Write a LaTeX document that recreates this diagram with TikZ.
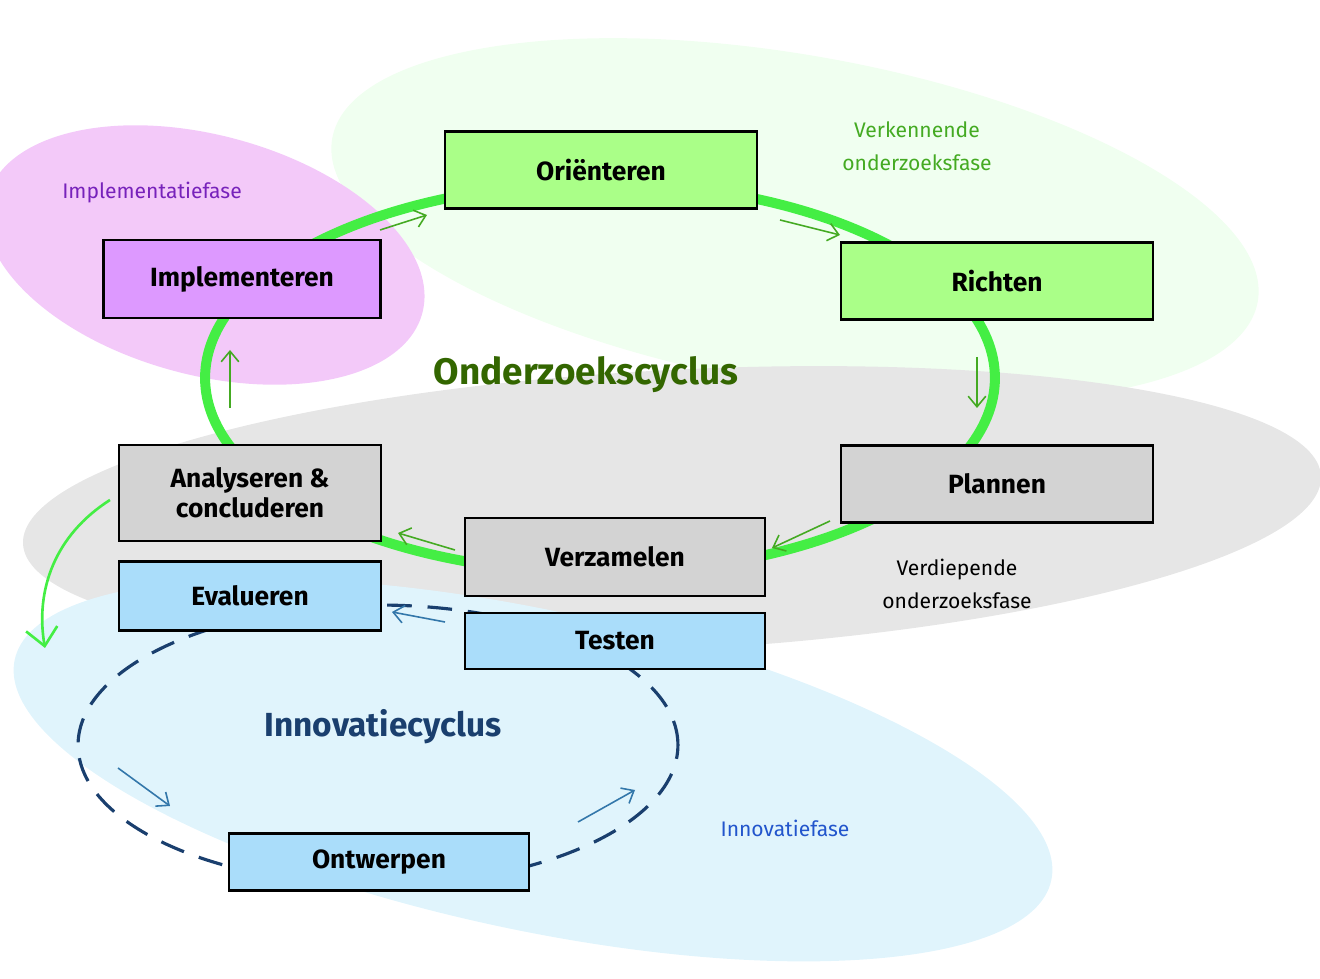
\documentclass[tikz,border=0pt]{standalone}
\usepackage{fontspec}
\setmainfont{Fira Sans}
\usetikzlibrary{shapes,backgrounds,calc,arrows.meta}
\definecolor{ringgreen}{HTML}{44EE44}
\definecolor{boxgreen}{HTML}{AAFF88}
\definecolor{boxgray}{HTML}{D3D3D3}
\definecolor{boxpink}{HTML}{DD99FF}
\definecolor{boxblue}{HTML}{AADDFA}
\definecolor{cyclblue}{HTML}{1A3F6E}
\definecolor{arrblue}{HTML}{3377AA}
\definecolor{arrgreen}{HTML}{44AA22}
\begin{document}
\begin{tikzpicture}[x=0.02cm,y=-0.02cm]
        % Styles for the phase boxes and the small arrows
        \tikzstyle{phase}=[draw=black, line width=1.2pt, inner sep=0pt, align=center, font=\fontsize{15}{17}\selectfont\bfseries];
        \tikzstyle{cyclearrow}=[-{Straight Barb[length=6pt,width=10pt]}, line width=0.9pt];
        \tikzstyle{faselabel}=[align=center, font=\fontsize{12}{19}\selectfont];

        \useasboundingbox (0,0) rectangle (1320,979);

        % Background blobs for the phases
        \fill[green!6] (795,220) ellipse [x radius=9.4cm, y radius=3.3cm, rotate=-10];
        \fill[color={rgb,255:red,243;green,201;blue,249}] (205,255) ellipse [x radius=4.5cm, y radius=2.4cm, rotate=-15];
        \fill[color={rgb,255:red,230;green,230;blue,230}] (672,510) ellipse [x radius=13cm, y radius=2.8cm, rotate=3];
        \fill[color={rgb,255:red,224;green,244;blue,252}] (533,770) ellipse [x radius=10.6cm, y radius=3.2cm, rotate=-12];

        % Research cycle ring and dashed innovation cycle
        \draw[ringgreen, line width=0.2cm] (600,378) ellipse [x radius=7.9cm, y radius=3.9cm];
        \draw[cyclblue, line width=1.8pt, dash pattern=on 14pt off 9pt] (378,745) ellipse [x radius=6cm, y radius=2.8cm];

        % Boxes of the research cycle
        \node[phase, fill=boxgreen, minimum width=6.24cm, minimum height=1.54cm] (orient) at (601,170) {Oriënteren};
        \node[phase, fill=boxgreen, minimum width=6.24cm, minimum height=1.54cm] (richt) at (997,281) {Richten};
        \node[phase, fill=boxgray, minimum width=6.24cm, minimum height=1.54cm] (plan) at (997,484) {Plannen};
        \node[phase, fill=boxgray, minimum width=6cm, minimum height=1.56cm] (verz) at (615,557) {Verzamelen};
        \node[phase, fill=boxgray, minimum width=5.24cm, minimum height=1.92cm] (analys) at (250,493) {Analyseren \&\\concluderen};
        \node[phase, fill=boxpink, minimum width=5.54cm, minimum height=1.56cm] (impl) at (242,279) {Implementeren};

        % Boxes of the innovation cycle
        \node[phase, fill=boxblue, minimum width=5.24cm, minimum height=1.38cm] (eval) at (250,596) {Evalueren};
        \node[phase, fill=boxblue, minimum width=6cm, minimum height=1.12cm] (test) at (615,641) {Testen};
        \node[phase, fill=boxblue, minimum width=6cm, minimum height=1.14cm] (ontw) at (379,862) {Ontwerpen};

        % Cycle titles
        \node[font=\fontsize{21}{24}\selectfont\bfseries, text={rgb,255:red,51;green,102;blue,0}] (ozc) at (586,375) {Onderzoekscyclus};
        \node[font=\fontsize{19}{22}\selectfont\bfseries, text=cyclblue] (inc) at (383,727) {Innovatiecyclus};

        % Phase labels
        \node[faselabel, text=arrgreen] (verk) at (917,146) {Verkennende\\onderzoeksfase};
        \node[faselabel, text={rgb,255:red,119;green,34;blue,187}] (implf) at (152,193) {Implementatiefase};
        \node[faselabel, text=black] (verd) at (957,584) {Verdiepende\\onderzoeksfase};
        \node[faselabel, text={rgb,255:red,34;green,85;blue,204}] (innf) at (785,828) {Innovatiefase};

        % Arrows of the research cycle
        \coordinate (g1a) at (380,230); \coordinate (g1b) at (427,215);
        \coordinate (g2a) at (780,220); \coordinate (g2b) at (840,235);
        \coordinate (g3a) at (977,357); \coordinate (g3b) at (977,408);
        \coordinate (g4a) at (830,521); \coordinate (g4b) at (772,548);
        \coordinate (g5a) at (455,550); \coordinate (g5b) at (398,533);
        \coordinate (g6a) at (230,408); \coordinate (g6b) at (230,350);
        \foreach \i in {1,...,6}
            \draw[cyclearrow, arrgreen] (g\i a) -- (g\i b);

        % Arrows of the innovation cycle
        \coordinate (b1a) at (445,622); \coordinate (b1b) at (392,612);
        \coordinate (b2a) at (118,768); \coordinate (b2b) at (170,806);
        \coordinate (b3a) at (578,822); \coordinate (b3b) at (635,790);
        \foreach \i in {1,2,3}
            \draw[cyclearrow, arrblue] (b\i a) -- (b\i b);

        % Link from the research cycle to the innovation cycle
        \coordinate (linkstart) at (110,500);
        \coordinate (linkend) at (45,648);
        \draw[ringgreen, line width=1.5pt, -{Straight Barb[length=10pt,width=18pt]}] (linkstart) .. controls (55,535) and (35,590) .. (linkend);
\end{tikzpicture}
\end{document}
